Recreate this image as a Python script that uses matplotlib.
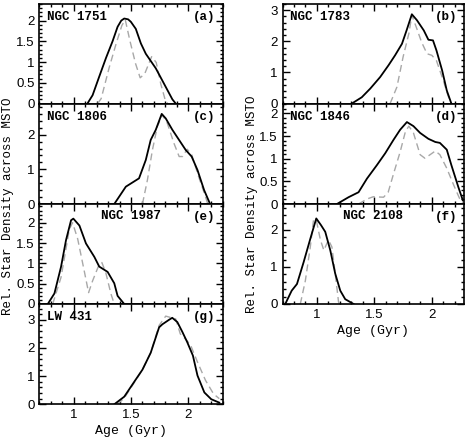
import matplotlib.pyplot as plt
from matplotlib.ticker import MultipleLocator

# panel (a) NGC 1751
age_a = [1.12, 1.165, 1.223, 1.282, 1.339, 1.383, 1.415, 1.441, 1.475, 1.499, 1.542, 1.586, 1.629, 1.716, 1.803, 1.861, 1.89]
den_a = [0.0, 0.2, 0.65, 1.1, 1.5, 1.85, 2.0, 2.05, 2.03, 1.97, 1.8, 1.45, 1.2, 0.85, 0.4, 0.1, 0.0]
age_a2 = [1.21, 1.24, 1.31, 1.37, 1.42, 1.45, 1.49, 1.54, 1.58, 1.62, 1.68, 1.72, 1.76, 1.80, 1.82]
den_a2 = [0.0, 0.12, 0.87, 1.44, 1.88, 2.02, 1.52, 0.96, 0.62, 0.72, 1.13, 0.99, 0.47, 0.07, 0.0]

# panel (b) NGC 1783
age_b = [1.304, 1.39, 1.464, 1.55, 1.623, 1.68, 1.74, 1.78, 1.826, 1.87, 1.93, 1.97, 2.01, 2.04, 2.09, 2.13, 2.17]
den_b = [0.0, 0.2, 0.48, 0.85, 1.23, 1.55, 1.92, 2.35, 2.87, 2.68, 2.35, 2.05, 2.03, 1.71, 1.06, 0.42, 0.0]
age_b2 = [1.637, 1.696, 1.75, 1.8, 1.826, 1.87, 1.91, 1.958, 2.0, 2.04, 2.1, 2.14, 2.17]
den_b2 = [0.0, 0.53, 1.5, 2.25, 2.84, 2.4, 1.98, 1.6, 1.55, 1.38, 0.74, 0.26, 0.0]

# panel (c) NGC 1806
age_c = [1.354, 1.455, 1.57, 1.629, 1.672, 1.716, 1.768, 1.803, 1.861, 1.919, 1.977, 2.029, 2.08, 2.138, 2.19]
den_c = [0.0, 0.5, 0.74, 1.27, 1.85, 2.14, 2.6, 2.47, 2.14, 1.85, 1.56, 1.37, 0.98, 0.4, 0.0]
age_c2 = [1.60, 1.643, 1.687, 1.73, 1.774, 1.817, 1.875, 1.92, 1.95, 1.99, 2.03, 2.09, 2.15, 2.17]
den_c2 = [0.0, 0.69, 1.56, 2.24, 2.57, 2.33, 1.75, 1.37, 1.37, 1.58, 1.42, 0.79, 0.21, 0.0]

# panel (d) NGC 1846
age_d = [1.174, 1.275, 1.362, 1.435, 1.522, 1.594, 1.667, 1.724, 1.783, 1.84, 1.898, 1.97, 2.03, 2.07, 2.13, 2.17, 2.23, 2.27]
den_d = [0.0, 0.15, 0.26, 0.56, 0.86, 1.12, 1.42, 1.64, 1.81, 1.72, 1.57, 1.44, 1.37, 1.35, 1.2, 0.86, 0.38, 0.08]
age_d2 = [1.362, 1.435, 1.49, 1.58, 1.62, 1.667, 1.724, 1.77, 1.80, 1.84, 1.898, 1.94, 1.985, 2.03, 2.07, 2.13, 2.19, 2.24, 2.27]
den_d2 = [0.0, 0.11, 0.16, 0.15, 0.26, 0.67, 1.15, 1.6, 1.72, 1.57, 1.09, 1.01, 1.09, 1.17, 1.09, 0.79, 0.42, 0.13, 0.02]

# panel (e) NGC 1987
age_e = [0.774, 0.832, 0.89, 0.933, 0.977, 0.997, 1.05, 1.107, 1.18, 1.223, 1.296, 1.354, 1.383, 1.441]
den_e = [0.0, 0.26, 0.92, 1.57, 2.06, 2.1, 1.93, 1.49, 1.16, 0.92, 0.79, 0.51, 0.2, 0.0]
age_e2 = [0.817, 0.89, 0.962, 0.99, 1.035, 1.093, 1.13, 1.165, 1.223, 1.246, 1.28, 1.325, 1.354]
den_e2 = [0.0, 0.66, 1.84, 2.0, 1.6, 0.8, 0.28, 0.57, 0.98, 1.02, 0.77, 0.25, 0.0]

# panel (f) NGC 2108
age_f = [0.724, 0.78, 0.826, 0.884, 0.942, 0.994, 1.035, 1.072, 1.116, 1.159, 1.203, 1.246, 1.319]
den_f = [0.0, 0.36, 0.54, 1.13, 1.76, 2.31, 2.13, 1.95, 1.45, 0.82, 0.36, 0.13, 0.0]
age_f2 = [0.855, 0.899, 0.942, 0.97, 0.994, 1.03, 1.06, 1.1, 1.13, 1.159, 1.188, 1.2]
den_f2 = [0.0, 0.63, 1.54, 2.27, 2.27, 1.73, 1.45, 1.73, 1.54, 0.82, 0.05, 0.0]

# panel (g) LW 431
age_g = [1.354, 1.441, 1.53, 1.6, 1.672, 1.745, 1.774, 1.832, 1.86, 1.904, 1.948, 1.99, 2.04, 2.08, 2.14, 2.2, 2.27]
den_g = [0.0, 0.27, 0.81, 1.23, 1.83, 2.73, 2.84, 3.0, 3.07, 2.92, 2.57, 2.21, 1.73, 1.02, 0.42, 0.18, 0.06]
age_g2 = [1.38, 1.441, 1.53, 1.6, 1.672, 1.745, 1.803, 1.89, 1.93, 1.98, 2.02, 2.08, 2.15, 2.22, 2.27]
den_g2 = [0.0, 0.22, 0.78, 1.23, 1.83, 2.8, 3.13, 3.03, 2.5, 2.3, 2.1, 1.5, 0.85, 0.37, 0.2]

names = ["NGC 1751", "NGC 1783", "NGC 1806", "NGC 1846", "NGC 1987", "NGC 2108", "LW 431"]
tags = ["(a)", "(b)", "(c)", "(d)", "(e)", "(f)", "(g)"]
ymax = [2.4, 3.2, 2.9, 2.22, 2.46, 2.7, 3.56]
ystep = [0.5, 1, 1, 0.5, 0.5, 1, 1]
solid = [(age_a, den_a), (age_b, den_b), (age_c, den_c), (age_d, den_d),
         (age_e, den_e), (age_f, den_f), (age_g, den_g)]
dashed = [(age_a2, den_a2), (age_b2, den_b2), (age_c2, den_c2), (age_d2, den_d2),
          (age_e2, den_e2), (age_f2, den_f2), (age_g2, den_g2)]

mono = "Liberation Mono"
plt.rcParams["font.family"] = "Liberation Sans"

W, H = 468, 437
fig = plt.figure(figsize=(W / 100, H / 100), dpi=100)

# pixel boxes: rows (top, bottom), cols (left, right) with x limits
rows = [(4, 103.5), (103.5, 204), (204, 304), (304, 404.3)]
cols = [(39.3, 222.7, 2.3), (282.5, 464.0, 2.28)]
slots = [(0, 0), (1, 0), (0, 1), (1, 1), (0, 2), (1, 2), (0, 3)]

for i, (c, r) in enumerate(slots):
    x0, x1, xhi = cols[c]
    y0, y1 = rows[r]
    ax = fig.add_axes([x0 / W, 1 - y1 / H, (x1 - x0) / W, (y1 - y0) / H])
    ax.plot(dashed[i][0], dashed[i][1], color="#a8a8a8", lw=1.0, ls=(0, (5, 3)))
    ax.plot(solid[i][0], solid[i][1], color="black", lw=1.3)
    ax.xaxis.set_major_locator(MultipleLocator(0.5))
    ax.xaxis.set_minor_locator(MultipleLocator(0.1))
    ax.yaxis.set_major_locator(MultipleLocator(ystep[i]))
    ax.yaxis.set_minor_locator(MultipleLocator(ystep[i] / 5))
    ax.tick_params(which="both", direction="in", top=True, right=True, width=1.0, labelsize=9.5)
    ax.tick_params(which="major", length=5)
    ax.tick_params(which="minor", length=2.5)
    for s in ax.spines.values():
        s.set_linewidth(1.2)
    last = (c == 0 and r == 3) or (c == 1 and r == 2)
    if last:
        ax.set_xticks([1, 1.5, 2])
        ax.set_xticklabels(["1", "1.5", "2"])
        ax.set_xlabel("Age (Gyr)", fontfamily=mono, fontsize=9.5, labelpad=3)
    else:
        ax.tick_params(axis="x", labelbottom=False)
    ax.set_xlim(0.7, xhi)
    ax.set_ylim(0, ymax[i])
    ax.yaxis.set_major_formatter(plt.FuncFormatter(lambda v, p: "%g" % v))
    if i in (4, 5):
        ax.text(0.5, 0.88, names[i], transform=ax.transAxes, fontfamily=mono,
                fontweight="bold", fontsize=9, ha="center", va="center")
    else:
        ax.text(0.04, 0.87, names[i], transform=ax.transAxes, fontfamily=mono,
                fontweight="bold", fontsize=9, ha="left", va="center")
    ax.text(0.9, 0.87, tags[i], transform=ax.transAxes, fontfamily=mono,
            fontweight="bold", fontsize=9, ha="center", va="center")

fig.text(8 / W, 1 - 206 / H, "Rel. Star Density across MSTO", rotation=90,
         fontfamily=mono, fontsize=9, ha="center", va="center")
fig.text(252 / W, 1 - 204 / H, "Rel. Star Density across MSTO", rotation=90,
         fontfamily=mono, fontsize=9, ha="center", va="center")

fig.savefig("out.png", dpi=100)
